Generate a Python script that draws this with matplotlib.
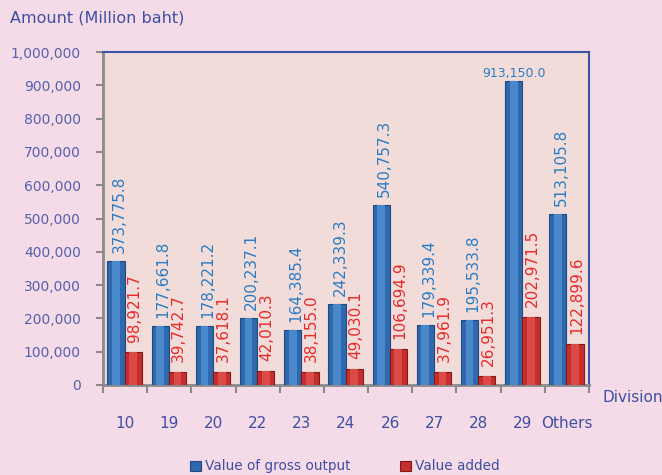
import matplotlib.pyplot as plt
import numpy as np

divisions = ['10', '19', '20', '22', '23', '24', '26', '27', '28', '29', 'Others']
gross_output = [373775.8, 177661.8, 178221.2, 200237.1, 164385.4, 242339.3,
                540757.3, 179339.4, 195533.8, 913150.0, 513105.8]
value_added = [98921.7, 39742.7, 37618.1, 42010.3, 38155.0, 49030.1,
               106694.9, 37961.9, 26951.3, 202971.5, 122899.6]

txt_col = '#3f4fa3'
blue_lbl = '#2b7cc4'
red_lbl = '#e52a2a'

fig = plt.figure(figsize=(6.62, 4.75), dpi=100, facecolor='#f5dbe7')
ax = fig.add_axes([0.1556, 0.1895, 0.7341, 0.701])
ax.set_facecolor('#f2dcd9')

x = np.arange(len(divisions))
w = 0.39
b1 = ax.bar(x - w / 2 - 0.01, gross_output, w, color='#2f68ad', edgecolor='#1d4a80', linewidth=0.8,
            label='Value of gross output', zorder=3)
ax.bar(x - w / 2 - 0.01, gross_output, w * 0.45, color='#4a88cc', linewidth=0, zorder=4)
b2 = ax.bar(x + w / 2 - 0.01, value_added, w, color='#c62e2e', edgecolor='#7e1a1a', linewidth=0.8,
            label='Value added', zorder=3)
ax.bar(x + w / 2 - 0.01, value_added, w * 0.45, color='#dc4a48', linewidth=0, zorder=4)

for i, v in enumerate(gross_output):
    if divisions[i] == '29':
        ax.text(x[i] - w / 2 - 0.01, v + 3000, f'{v:,.1f}', ha='center', va='bottom',
                color=blue_lbl, fontsize=9)
    else:
        ax.text(x[i] - w / 2 + 0.06, v + 24000, f'{v:,.1f}', ha='center', va='bottom',
                rotation=90, color=blue_lbl, fontsize=11)
for i, v in enumerate(value_added):
    ax.text(x[i] + w / 2 + 0.02, v + 30000, f'{v:,.1f}', ha='center', va='bottom',
            rotation=90, color=red_lbl, fontsize=11)

ax.set_xlim(-0.5, len(divisions) - 0.5)
ax.set_ylim(0, 1000000)
ax.set_yticks(np.arange(0, 1000001, 100000))
ax.set_yticklabels([f'{t:,.0f}' for t in np.arange(0, 1000001, 100000)])
ax.set_xticks(np.arange(-0.5, len(divisions), 1))
ax.set_xticklabels([])
ax.set_xticks(x, minor=True)
ax.set_xticklabels(divisions, minor=True)
ax.tick_params(axis='x', which='minor', length=0, pad=22, labelsize=11, labelcolor=txt_col)
ax.tick_params(axis='x', which='major', length=6, width=1.5, color='#8a8a8a', direction='out')
ax.tick_params(axis='y', length=5, width=1.5, color='#8a8a8a', labelsize=10,
               labelcolor='#5561ad', pad=11)

for s in ['left', 'bottom']:
    ax.spines[s].set_color('#8a8a8a')
    ax.spines[s].set_linewidth(2)
for s in ['top', 'right']:
    ax.spines[s].set_color('#3a55a8')
    ax.spines[s].set_linewidth(1.5)

fig.text(0.015, 0.962, 'Amount (Million baht)', color=txt_col, fontsize=11.5, va='center')
fig.text(0.91, 0.164, 'Division', color=txt_col, fontsize=11, va='center')

leg = fig.legend(handles=[b1, b2], loc='center', bbox_to_anchor=(0.521, 0.018), ncol=2,
                 frameon=False, fontsize=9.8, labelcolor=txt_col, handlelength=0.8,
                 handleheight=0.8, columnspacing=3.6, handletextpad=0.3)

fig.savefig('out.png', dpi=100, facecolor=fig.get_facecolor())
